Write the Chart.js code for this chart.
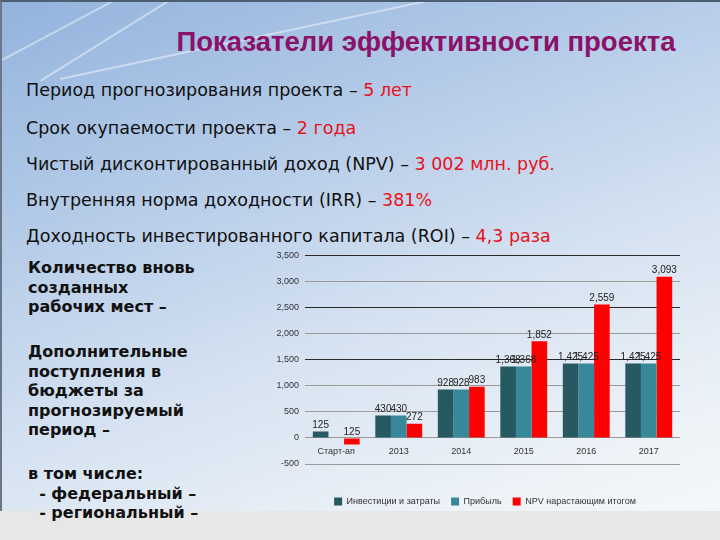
<!DOCTYPE html>
<html>
<head>
<meta charset="utf-8">
<script src="https://cdn.jsdelivr.net/npm/chart.js@4"></script>
<style>
  html, body { margin: 0; padding: 0; }
  body { width: 720px; height: 540px; position: relative; overflow: hidden;
    background: linear-gradient(160deg, #93b3dd 0%, #b4cbe8 30%, #d8e4f2 60%, #eef3f8 85%, #f6f8fb 100%);
    font-family: "DejaVu Sans", sans-serif; }
  .frame { position: absolute; left: 0; top: 0; width: 718px; height: 509px;
    border-top: 2px solid #4d5d72; border-left: 2px solid #6b7688; }
  .bottom { position: absolute; left: 0; top: 511px; width: 720px; height: 29px; background: #e7e7e7; }
  .streak { position: absolute; height: 2px; background: rgba(255,255,255,0.45); transform-origin: 0 0; }
  h1 { position: absolute; left: 0; top: 26px; width: 852px; margin: 0; text-align: center;
    font: bold 27.5px "Liberation Sans", Arial, sans-serif; color: #8a1268; }
  .line { position: absolute; left: 26px; font-size: 17.5px; line-height: 20px; color: #111; white-space: nowrap; }
  .red { color: #e8111b; }
  .side { position: absolute; left: 28px; font-weight: bold; font-size: 16px; line-height: 19.5px; color: #111; white-space: nowrap; }
  #wrap { position: absolute; left: 258px; top: 244px; width: 430px; height: 272px; }
</style>
</head>
<body>
<div class="streak" style="left:0;top:60px;width:260px;transform:rotate(-28deg)"></div>
<div class="streak" style="left:40px;top:80px;width:330px;transform:rotate(-32deg)"></div>
<div class="streak" style="left:60px;top:78px;width:420px;transform:rotate(-12deg)"></div>
<div class="frame"></div>
<div class="bottom"></div>
<h1>Показатели эффективности проекта</h1>
<div class="line" style="top:80px">Период прогнозирования проекта – <span class="red">5 лет</span></div>
<div class="line" style="top:118px">Срок окупаемости проекта – <span class="red">2 года</span></div>
<div class="line" style="top:154px">Чистый дисконтированный доход (NPV) – <span class="red">3 002 млн. руб.</span></div>
<div class="line" style="top:190px">Внутренняя норма доходности (IRR) – <span class="red">381%</span></div>
<div class="line" style="top:226px">Доходность инвестированного капитала (ROI) – <span class="red">4,3 раза</span></div>
<div class="side" style="top:258px">Количество вновь<br>созданных<br>рабочих мест –</div>
<div class="side" style="top:342px">Дополнительные<br>поступления в<br>бюджеты за<br>прогнозируемый<br>период –</div>
<div class="side" style="top:464px">в том числе:<br>&nbsp;&nbsp;- федеральный –<br>&nbsp;&nbsp;- региональный –</div>
<div id="wrap"><canvas id="myChart"></canvas></div>
<script>
const categories = ['Старт-ап', '2013', '2014', '2015', '2016', '2017'];
const investments = [125, 430, 928, 1368, 1425, 1425];
const profit = [null, 430, 928, 1368, 1425, 1425];
const npv = [-125, 272, 983, 1852, 2559, 3093];
const darkLines = [3500, 2500, 1500];

const fmt = (v) => Math.abs(v).toLocaleString('en-US');

const valueLabels = {
  id: 'valueLabels',
  afterDatasetsDraw(chart) {
    const c = chart.ctx;
    c.save();
    c.font = '10px "Liberation Sans", Arial, sans-serif';
    c.fillStyle = '#222';
    c.textAlign = 'center';
    c.textBaseline = 'bottom';
    chart.data.datasets.forEach((ds, i) => {
      chart.getDatasetMeta(i).data.forEach((bar, j) => {
        const v = ds.data[j];
        if (v === null) return;
        c.fillText(fmt(v), bar.x, Math.min(bar.y, bar.base) - 1);
      });
    });
    c.restore();
  }
};

// legend sits a bit right of the canvas centre in the original
const shiftLegend = {
  id: 'shiftLegend',
  afterLayout(chart) {
    chart.legend.left += 16;
    chart.legend.right += 16;
  }
};

const ctx = document.getElementById('myChart').getContext('2d');
const myChart = new Chart(ctx, {
  type: 'bar',
  data: {
    labels: categories,
    datasets: [{
      label: 'Инвестиции и затраты',
      data: investments,
      backgroundColor: '#265962'
    }, {
      label: 'Прибыль',
      data: profit,
      backgroundColor: '#378898'
    }, {
      label: 'NPV нарастающим итогом',
      data: npv,
      backgroundColor: '#ff0000'
    }]
  },
  options: {
    responsive: true,
    maintainAspectRatio: false,
    animation: false,
    layout: { padding: { top: 7, right: 8 } },
    datasets: { bar: { categoryPercentage: 0.75, barPercentage: 1.0 } },
    scales: {
      x: {
        position: { y: 0 },
        grid: { display: false },
        border: { display: false },
        ticks: { color: '#333', font: { size: 9, family: 'Liberation Sans' }, padding: 0 }
      },
      y: {
        min: -500,
        max: 3500,
        afterFit: (s) => { s.width = 47; },
        border: { display: false },
        grid: {
          drawTicks: false,
          color: (c) => darkLines.includes(c.tick.value) ? '#2a2a2a' : '#9a9a9a'
        },
        ticks: {
          stepSize: 500,
          padding: 6,
          color: '#333',
          font: { size: 9, family: 'Liberation Sans' },
          callback: (v) => v.toLocaleString('en-US')
        }
      }
    },
    plugins: {
      legend: {
        position: 'bottom',
        title: { display: true, text: ' ', font: { size: 10 }, padding: { top: 10, bottom: 0 } },
        labels: { boxWidth: 8, boxHeight: 8, padding: 11, color: '#333', font: { size: 9, family: 'Liberation Sans' } }
      },
      tooltip: { enabled: false }
    }
  },
  plugins: [valueLabels, shiftLegend]
});
</script>
</body>
</html>
